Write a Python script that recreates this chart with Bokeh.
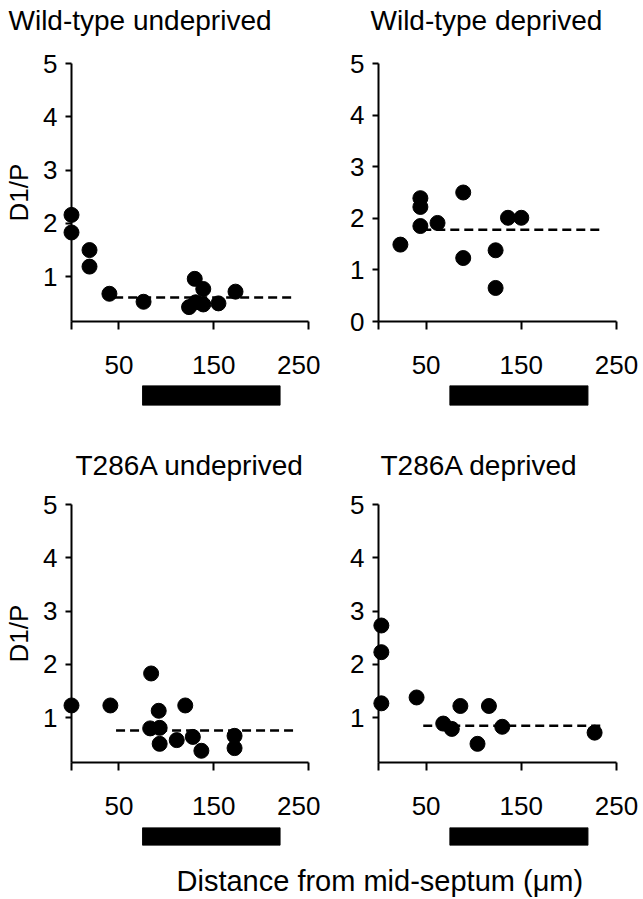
from bokeh.plotting import figure
from bokeh.layouts import column, row
from bokeh.models import FixedTicker, Title, Range1d
from bokeh.embed import file_html
from bokeh.resources import INLINE

FONT = "Liberation Sans"

# ---------------- data ----------------
titles = ["Wild-type undeprived", "Wild-type deprived", "T286A undeprived", "T286A deprived"]
x_ticks = [0, 50, 150, 250]
y_ticks_plain = [1, 2, 3, 4, 5]
y_ticks_zero = [0, 1, 2, 3, 4, 5]
y_title = "D1/P"
x_title = "Distance from mid-septum (\u03bcm)"

wt_undep_x = [0, 0, 19, 19, 40, 76, 130, 139, 124, 131, 139, 155, 173]
wt_undep_y = [2.16, 1.83, 1.50, 1.19, 0.68, 0.53, 0.96, 0.77, 0.43, 0.52, 0.48, 0.50, 0.72]
wt_undep_mean = 0.61
wt_undep_span = [45, 232]

wt_dep_x = [23, 44, 44, 44, 62, 89, 89, 123, 123, 136, 150]
wt_dep_y = [1.49, 2.39, 2.22, 1.85, 1.91, 2.50, 1.23, 1.38, 0.65, 2.01, 2.01]
wt_dep_mean = 1.78
wt_dep_span = [46, 232]

t_undep_x = [0, 41, 84, 92, 120, 83, 93, 93, 111, 128, 137, 172, 172]
t_undep_y = [1.23, 1.23, 1.83, 1.13, 1.23, 0.80, 0.81, 0.51, 0.58, 0.64, 0.38, 0.66, 0.43]
t_undep_mean = 0.76
t_undep_span = [47, 234]

t_dep_x = [3, 3, 3, 40, 68, 77, 86, 104, 116, 130, 227]
t_dep_y = [2.73, 2.23, 1.27, 1.38, 0.89, 0.79, 1.22, 0.51, 1.22, 0.83, 0.72]
t_dep_mean = 0.85
t_dep_span = [47, 234]

barrel = [75, 220]

TITLE_SIZE = "28px"


def make_title(text, offset, standoff):
    return Title(text=text, align="left", offset=offset, standoff=standoff,
                 text_font=FONT, text_font_size=TITLE_SIZE,
                 text_font_style="normal", text_color="black")


def title_fig(text, width, height, offset):
    t = figure(width=width, height=height, output_backend="svg",
               toolbar_location=None, x_axis_location=None,
               y_axis_location=None, min_border_left=0, min_border_right=0,
               min_border_top=height - 2, min_border_bottom=0)
    t.outline_line_color = None
    t.grid.visible = False
    t.title = make_title(text, offset, 0)
    return t


def panel(xs, ys, mean, span, yticks, ystart, width, height,
          bl, br, bt, bb, title=None, t_offset=0, t_standoff=0, ylabel=None):
    p = figure(width=width, height=height,
               x_range=Range1d(0, 250), y_range=Range1d(ystart, 5),
               output_backend="svg", toolbar_location=None,
               min_border_left=bl, min_border_right=br,
               min_border_top=bt, min_border_bottom=bb)
    p.outline_line_color = None
    p.grid.visible = False
    p.background_fill_color = "white"
    p.border_fill_color = "white"
    if title:
        p.title = make_title(title, t_offset, t_standoff)

    xa = p.xaxis[0]
    xa.ticker = FixedTicker(ticks=x_ticks)
    xa.major_label_overrides = {0: ""}
    xa.major_tick_in = 0
    xa.major_tick_out = 8
    xa.major_label_standoff = 26
    xa.minor_tick_line_color = None

    ya = p.yaxis[0]
    ya.ticker = FixedTicker(ticks=yticks)
    ya.major_tick_in = 0
    ya.major_tick_out = 6
    ya.major_label_standoff = 8
    ya.minor_tick_line_color = None
    if ylabel:
        ya.axis_label = ylabel
        ya.axis_label_text_font = FONT
        ya.axis_label_text_font_size = "26px"
        ya.axis_label_text_font_style = "normal"
        ya.axis_label_text_color = "black"
        ya.axis_label_standoff = 6

    for ax in (xa, ya):
        ax.axis_line_width = 2
        ax.axis_line_color = "black"
        ax.major_tick_line_width = 2
        ax.major_tick_line_color = "black"
        ax.major_label_text_font = FONT
        ax.major_label_text_font_size = "26px"
        ax.major_label_text_color = "black"

    p.line(span, [mean, mean], line_dash="9 5", line_width=2.5, color="black")
    p.scatter(xs, ys, size=15, color="black", level="overlay")
    return p


def barfig(x_range, width, height, bl, br, bt, bb):
    b = figure(width=width, height=height, x_range=x_range,
               y_range=Range1d(0, 1),
               x_axis_location=None, y_axis_location=None,
               output_backend="svg", toolbar_location=None,
               min_border_left=bl, min_border_right=br,
               min_border_top=bt, min_border_bottom=bb)
    b.outline_line_color = None
    b.grid.visible = False
    b.quad(left=[barrel[0]], right=[barrel[1]], bottom=[0], top=[1],
           color="black")
    return b


LW, RW = 320, 323
LBL, LBR = 71, 12
RBL, RBR = 58, 27

# top titles (own strip so the text can sit high above the frame)
t1 = title_fig(titles[0], LW, 37, 8)
t2 = title_fig(titles[1], RW, 37, 50)

f1 = panel(wt_undep_x, wt_undep_y, wt_undep_mean, wt_undep_span,
           y_ticks_plain, 0.16, LW, 348, LBL, LBR, 26, 64, ylabel=y_title)
f2 = panel(wt_dep_x, wt_dep_y, wt_dep_mean, wt_dep_span,
           y_ticks_zero, 0.0, RW, 348, RBL, RBR, 26, 64)
b1 = barfig(f1.x_range, LW, 35, LBL, LBR, 0, 15)
b2 = barfig(f2.x_range, RW, 35, RBL, RBR, 0, 15)

f3 = panel(t_undep_x, t_undep_y, t_undep_mean, t_undep_span,
           y_ticks_plain, 0.16, LW, 406, LBL, LBR, 84, 64,
           title=titles[2], t_offset=4, t_standoff=48, ylabel=y_title)
f4 = panel(t_dep_x, t_dep_y, t_dep_mean, t_dep_span,
           y_ticks_plain, 0.16, RW, 406, RBL, RBR, 84, 64,
           title=titles[3], t_offset=2, t_standoff=48)
b3 = barfig(f3.x_range, LW, 26, LBL, LBR, 1, 7)
b4 = barfig(f4.x_range, RW, 26, RBL, RBR, 1, 7)

ft = figure(width=LW + RW, height=46, output_backend="svg",
            toolbar_location=None, x_axis_location=None, y_axis_location=None,
            min_border_left=0, min_border_right=0, min_border_top=44,
            min_border_bottom=0)
ft.outline_line_color = None
ft.grid.visible = False
ft.title = Title(text=x_title, align="left", offset=176, standoff=0,
                 text_font=FONT, text_font_size="29px",
                 text_font_style="normal", text_color="black")

layout = column(row(t1, t2), row(f1, f2), row(b1, b2), row(f3, f4),
                row(b3, b4), ft)

open("out.html", "w").write(file_html(layout, INLINE))
